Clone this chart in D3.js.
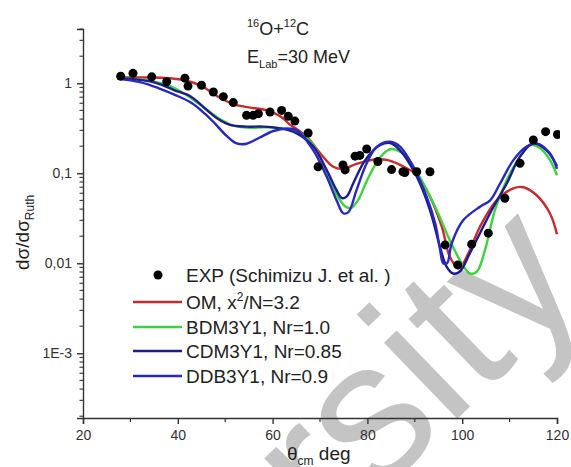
<!DOCTYPE html>
<html><head><meta charset="utf-8">
<script src="https://cdn.jsdelivr.net/npm/d3@7"></script>
<style>body{margin:0;background:#fff} text{font-family:"Liberation Sans",Arial,sans-serif}</style>
</head><body><svg id="c" width="571" height="467"></svg>
<script>
// ---- data ----
const expAngle = [27.95,30.55,34.5,37.66,41.5,42.15,45.0,47.5,49.6,51.7,54.5,55.9,57.0,59.45,61.9,63.3,64.7,67.5,69.6,74.85,75.3,77.4,78.4,79.85,82.2,85.1,87.5,87.9,90.4,93.2,96.4,99.05,102.0,105.5,109.0,112.2,115.0,117.6,120.1];
const expValue = [1.20,1.29,1.18,1.04,1.14,0.93,0.95,0.80,0.71,0.61,0.44,0.44,0.46,0.48,0.50,0.43,0.38,0.28,0.118,0.124,0.109,0.155,0.158,0.186,0.135,0.110,0.104,0.102,0.104,0.104,0.016,0.0096,0.0163,0.0216,0.0528,0.129,0.234,0.29,0.27];

const omAngle = [27.3,34.1,38,41.5,45,48.9,52,55,58.75,61.6,63.6,67.2,70,72.8,74.85,77.7,81.25,84.1,86.9,90.4,93.2,95.7,97.4,99.3,101.3,103.75,107.3,110.8,112.9,115.7,118.5,120];
const omValue = [1.16,1.16,1.14,1.08,0.93,0.69,0.58,0.54,0.50,0.43,0.35,0.255,0.168,0.118,0.112,0.127,0.142,0.141,0.124,0.096,0.055,0.0255,0.0118,0.0088,0.0129,0.0255,0.0505,0.068,0.070,0.057,0.036,0.021];

const bdmAngle = [27.3,34.1,39.4,44.7,48.9,51.5,55,58.75,63,65.8,68.5,71.4,73.5,75.3,76.5,78,80,82.65,84.8,86.9,89,91.8,94.6,97.4,99.9,101.6,103.1,104.8,106.9,109.4,112.2,114.3,116.4,118.5,120];
const bdmValue = [1.13,1.07,0.88,0.58,0.40,0.34,0.32,0.325,0.31,0.28,0.21,0.105,0.058,0.043,0.041,0.05,0.085,0.150,0.185,0.174,0.135,0.077,0.039,0.018,0.010,0.0077,0.0081,0.014,0.039,0.084,0.153,0.206,0.191,0.141,0.095];

const cdmAngle = [27.3,32,35.7,39.2,42.8,46.2,48.5,51,54.5,58,61.55,65.1,68.6,71.4,73.5,74.6,75.6,77,79.1,81.25,82.65,84.8,86.9,90.4,93.2,95.3,96.7,98.1,99.5,101.6,103.75,106.6,109.4,112.2,115,117.8,120];
const cdmValue = [1.14,1.09,1.0,0.84,0.71,0.50,0.40,0.345,0.33,0.33,0.316,0.278,0.198,0.109,0.065,0.053,0.055,0.077,0.129,0.18,0.206,0.217,0.18,0.092,0.039,0.0153,0.0092,0.0077,0.0081,0.0129,0.0216,0.0425,0.077,0.153,0.215,0.18,0.12];

const ddbAngle = [27.3,32,36,39.5,43,45.7,48,50.3,52.4,54.5,57.3,60.15,63,65.1,68.6,71.4,73.5,74.9,76,77.7,79.85,82,84.8,86.9,89.7,92.5,94.3,95.35,96,96.8,97.8,100.2,103.75,105.9,108,110.8,113.6,115.7,118.5,120];
const ddbValue = [1.12,1.03,0.88,0.74,0.60,0.46,0.35,0.26,0.215,0.213,0.25,0.295,0.315,0.30,0.18,0.092,0.050,0.036,0.037,0.065,0.129,0.198,0.224,0.198,0.118,0.055,0.0278,0.014,0.010,0.010,0.0167,0.030,0.0425,0.050,0.077,0.14,0.198,0.215,0.167,0.112];

const xTickValues = [20,40,60,80,100,120];
const xMinorValues = [30,50,70,90,110];
const yTickValues = [1,0.1,0.01,0.001];
const yTickLabels = ["1","0,1","0,01","1E-3"];
const legendLabels = ["EXP (Schimizu J. et al. )","OM, x²/N=3.2","BDM3Y1, Nr=1.0","CDM3Y1, Nr=0.85","DDB3Y1, Nr=0.9"];

// ---- layout ----
const svg = d3.select("#c");
const L = 83, R = 557, T = 29, B = 418;
const x = d3.scaleLinear().domain([20,120]).range([L,R]);
const y = d3.scaleLog().domain([1.91e-4, 4.01]).range([B,T]);
const axisColor = "#333";
const textColor = "#222";

// background watermark (scan artifact in the reference)
svg.append("text").attr("transform","translate(248,621) rotate(-44)")
  .attr("font-size",200).attr("fill","#c4c4c4")
  .text("ersity");

svg.append("defs").append("clipPath").attr("id","clip")
  .append("rect").attr("x",L).attr("y",T-10).attr("width",R-L+3).attr("height",B-T+10);

// axes
const gx = svg.append("g").attr("transform",`translate(0,${B})`)
  .call(d3.axisBottom(x).tickValues(xTickValues).tickSize(6).tickPadding(6).tickFormat(d3.format("d")));
gx.select(".domain").attr("stroke",axisColor).attr("stroke-width",1.4);
gx.selectAll(".tick line").attr("stroke",axisColor).attr("stroke-width",1.4);
gx.selectAll(".tick text").attr("fill","#333").attr("font-size",14).attr("font-family","Liberation Sans, Arial, sans-serif");
gx.selectAll(".minor").data(xMinorValues).enter().append("line")
  .attr("x1",d=>x(d)).attr("x2",d=>x(d)).attr("y1",0).attr("y2",4)
  .attr("stroke",axisColor).attr("stroke-width",1.2);

const gy = svg.append("g").attr("transform",`translate(${L},0)`)
  .call(d3.axisLeft(y).tickValues(yTickValues).tickSize(6).tickPadding(5).tickFormat((d,i)=>yTickLabels[i]));
gy.select(".domain").attr("stroke",axisColor).attr("stroke-width",1.4);
gy.selectAll(".tick line").attr("stroke",axisColor).attr("stroke-width",1.4);
gy.selectAll(".tick text").attr("fill","#333").attr("font-size",14).attr("font-family","Liberation Sans, Arial, sans-serif");
const yMinor = [];
[1e-4,1e-3,1e-2,1e-1,1].forEach(dec=>{ for(let m=2;m<=9;m++){ const v=dec*m; if(v>=y.domain()[0] && v<=y.domain()[1]) yMinor.push(v);} });
gy.selectAll(".minor").data(yMinor).enter().append("line")
  .attr("x1",-3.5).attr("x2",0).attr("y1",d=>y(d)).attr("y2",d=>y(d))
  .attr("stroke",axisColor).attr("stroke-width",1.1);

// curves
const series = [
  {a:omAngle, v:omValue, c:"#cc2a2a"},
  {a:bdmAngle, v:bdmValue, c:"#3cd43c"},
  {a:cdmAngle, v:cdmValue, c:"#1c1c8e"},
  {a:ddbAngle, v:ddbValue, c:"#2828c0"}
];
const line = d3.line().x(d=>x(d[0])).y(d=>y(d[1])).curve(d3.curveCatmullRom.alpha(0.5));
const plot = svg.append("g").attr("clip-path","url(#clip)");
series.forEach(s=>{
  plot.append("path").datum(d3.zip(s.a,s.v)).attr("d",line)
    .attr("fill","none").attr("stroke",s.c).attr("stroke-width",2.4).attr("stroke-linejoin","round");
});
plot.selectAll(".dot").data(d3.zip(expAngle,expValue)).enter().append("circle")
  .attr("cx",d=>x(d[0])).attr("cy",d=>y(d[1])).attr("r",4.5).attr("fill","#000");

// title
const t1 = svg.append("text").attr("x",247).attr("y",35).attr("fill",textColor).attr("font-size",18);
t1.append("tspan").attr("font-size",11).attr("dy",-8).text("16");
t1.append("tspan").attr("dy",8).text("O+");
t1.append("tspan").attr("font-size",11).attr("dy",-8).text("12");
t1.append("tspan").attr("dy",8).text("C");
const t2 = svg.append("text").attr("x",247).attr("y",63).attr("fill",textColor).attr("font-size",18);
t2.append("tspan").text("E");
t2.append("tspan").attr("font-size",11).attr("dy",5).text("Lab");
t2.append("tspan").attr("dy",-5).text("=30 MeV");

// legend
const legY = [275,302,327,351,376];
const lg = svg.append("g");
lg.append("circle").attr("cx",158).attr("cy",legY[0]).attr("r",4.5).attr("fill","#000");
series.forEach((s,i)=>{
  lg.append("line").attr("x1",133).attr("x2",182).attr("y1",legY[i+1]).attr("y2",legY[i+1])
    .attr("stroke",s.c).attr("stroke-width",2.4);
});
legendLabels.forEach((t,i)=>{
  const tx = lg.append("text").attr("x",186).attr("y",legY[i]+7).attr("fill",textColor).attr("font-size",19);
  if(i===1){
    tx.append("tspan").text("OM, x");
    tx.append("tspan").attr("font-size",12).attr("dy",-8).text("2");
    tx.append("tspan").attr("dy",8).text("/N=3.2");
  } else tx.text(t);
});

// axis titles
const yl = svg.append("text").attr("transform","translate(29,270) rotate(-90)").attr("fill",textColor).attr("font-size",19);
yl.append("tspan").text("dσ/dσ");
yl.append("tspan").attr("font-size",12).attr("dy",5).text("Ruth");
const xl = svg.append("text").attr("x",287).attr("y",460).attr("fill",textColor).attr("font-size",19);
xl.append("tspan").text("θ");
xl.append("tspan").attr("font-size",12).attr("dy",5).text("cm");
xl.append("tspan").attr("dy",-5).text(" deg");
</script></body></html>
